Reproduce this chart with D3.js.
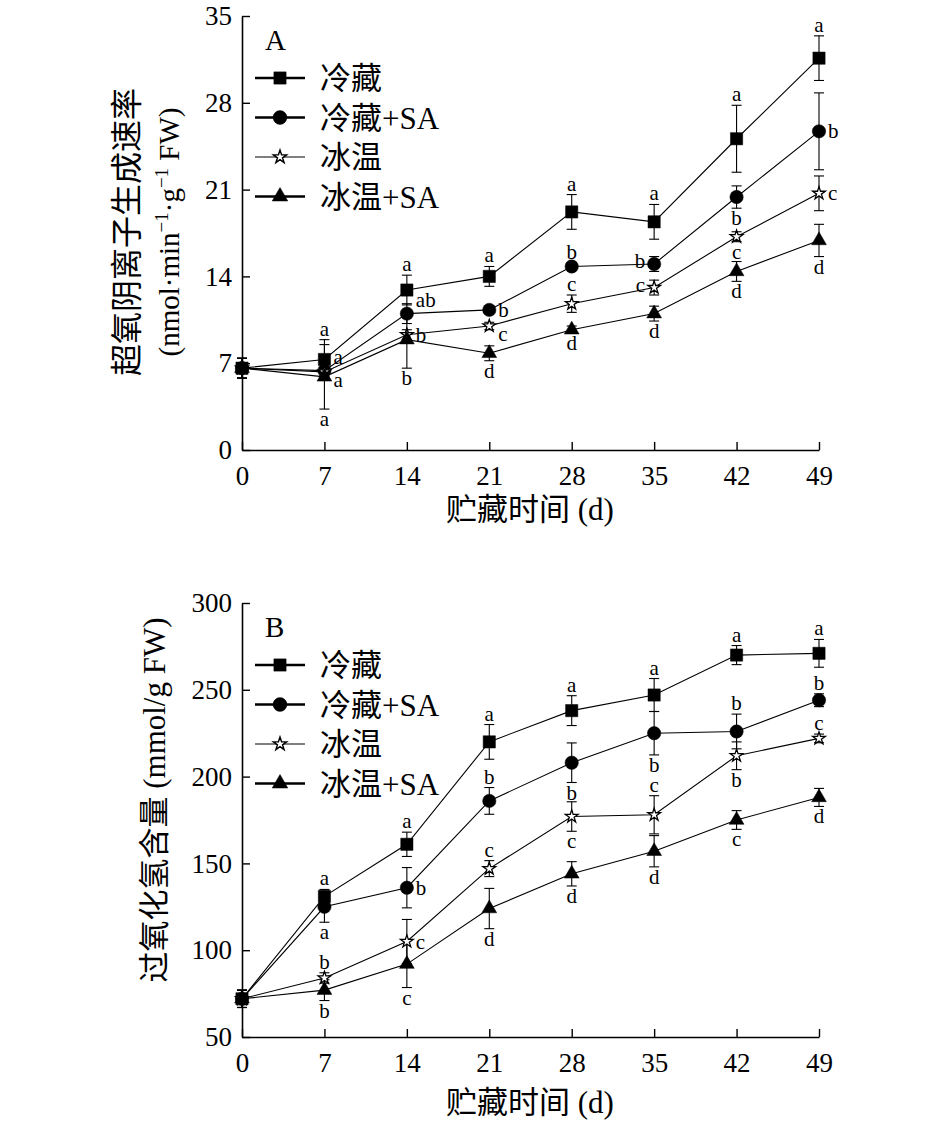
<!DOCTYPE html>
<html><head><meta charset="utf-8">
<script src="https://cdn.jsdelivr.net/npm/d3@7"></script>
<style>body{margin:0;background:#fff}svg{display:block}</style>
</head><body>
<svg id="chart" width="945" height="1122"></svg>
<script>
// ---------- data ----------
const days = [0, 7, 14, 21, 28, 35, 42, 49];
const seriesNames = ["冷藏", "冷藏+SA", "冰温", "冰温+SA"];

// Panel A: superoxide anion production rate
const A_cold      = [6.6, 7.3, 12.9, 14.0, 19.2, 18.4, 25.1, 31.6];
const A_coldSA    = [6.6, 6.4, 11.0, 11.3, 14.8, 15.0, 20.4, 25.7];
const A_ice       = [6.6, 6.3, 9.3, 10.0, 11.8, 13.1, 17.2, 20.7];
const A_iceSA     = [6.6, 5.9, 8.9, 7.8, 9.7, 11.0, 14.4, 16.9];
const A_coldErr   = [0.8, 1.6, 1.2, 0.8, 1.4, 1.4, 2.7, 1.8];
const A_coldSAErr = [0.8, 0.5, 0.8, 0.3, 0.3, 0.6, 0.9, 3.1];
const A_iceErr    = [0.8, 0.3, 0.4, 0.3, 0.7, 0.6, 0.4, 1.4];
const A_iceSAErr  = [0.8, 2.6, 2.3, 0.6, 0.3, 0.6, 0.8, 1.3];
const A_coldLet   = ["", "a", "a", "a", "a", "a", "a", "a"];
const A_coldSALet = ["", "a", "ab", "b", "b", "b", "b", "b"];
const A_iceLet    = ["", "a", "b", "c", "c", "c", "c", "c"];
const A_iceSALet  = ["", "a", "b", "d", "d", "d", "d", "d"];
const A_yTicks = [0, 7, 14, 21, 28, 35];

// Panel B: hydrogen peroxide content
const B_cold      = [72, 131, 161, 220, 238, 247, 270, 271];
const B_coldSA    = [72, 125, 136, 186, 208, 225, 226, 244];
const B_ice       = [72, 84, 105, 147, 177, 178, 212, 222];
const B_iceSA     = [72, 77, 92, 124, 144, 157, 175, 188];
const B_coldErr   = [5, 4, 7, 10, 8.6, 9.5, 5.5, 8];
const B_coldSAErr = [5, 8.9, 11.6, 7.7, 11.4, 12.5, 10, 3.7];
const B_iceErr    = [5, 3, 12.7, 4.6, 8.5, 11, 8, 2.5];
const B_iceSAErr  = [5, 6, 13.5, 11.6, 7, 9, 5.4, 5.2];
const B_coldLet   = ["", "a", "a", "a", "a", "a", "a", "a"];
const B_coldSALet = ["", "a", "b", "b", "b", "b", "b", "b"];
const B_iceLet    = ["", "b", "c", "c", "c", "c", "b", "c"];
const B_iceSALet  = ["", "b", "c", "d", "d", "d", "c", "d"];
const B_yTicks = [50, 100, 150, 200, 250, 300];

// ---------- label placement (style) ----------
const A_place = [
  ["n","t","t","t","t","t","t","t"],
  ["n","ru","ru","r","t","l","b","r"],
  ["n","rd","r","rd","t","l","b","r"],
  ["n","b","b","b","b","b","b","b"]
];
const B_place = [
  ["n","t","t","t","t","t","t","t"],
  ["n","b","r","t","b","b","t","t"],
  ["n","t","r","t","b","t","b","t"],
  ["n","b","b","b","b","b","b","b"]
];

const svg = d3.select("#chart");
const serif = "'Liberation Serif','Times New Roman','Noto Sans CJK SC',serif";

const symbols = [
  {type: d3.symbolSquare, size: 150, legSize: 150, fill: "#000", lw: 2.6},
  {type: d3.symbolCircle, size: 140, legSize: 150, fill: "#000", lw: 2.6},
  {type: d3.symbolStar, size: 50, legSize: 55, fill: "#fff", lw: 1.1},
  {type: d3.symbolTriangle, size: 95, legSize: 105, fill: "#000", lw: 2.6}
];

function panel(cfg) {
  const x = d3.scaleLinear().domain([0, 49]).range([242, 819]);
  const y = d3.scaleLinear().domain(cfg.yDomain).range([cfg.bottom, cfg.top]);
  const g = svg.append("g");

  // axes
  const xAxis = d3.axisBottom(x).tickValues(days).tickSizeInner(-8).tickSizeOuter(0).tickPadding(12);
  const gx = g.append("g").attr("transform", `translate(0,${cfg.bottom})`).call(xAxis);
  const yAxis = d3.axisLeft(y).tickValues(cfg.yTicks).tickSizeInner(-8).tickSizeOuter(0).tickPadding(14);
  const gy = g.append("g").attr("transform", `translate(242,0)`).call(yAxis);
  [gx, gy].forEach(a => {
    a.select(".domain").attr("stroke", "#000").attr("stroke-width", 1.6);
    a.selectAll(".tick line").attr("stroke", "#000").attr("stroke-width", 1.4);
    a.selectAll(".tick text").attr("font-family", serif).attr("font-size", 27).attr("fill", "#000");
  });
  gx.selectAll(".tick text").attr("dy", "0.85em");
  gy.selectAll(".tick text").attr("dx", "0.15em");

  const series = cfg.series;
  // lines
  series.forEach((s) => {
    g.append("path").datum(s.v)
      .attr("fill", "none").attr("stroke", "#000").attr("stroke-width", 1.1)
      .attr("d", d3.line().x((d, i) => x(days[i])).y(d => y(d)));
  });
  // error bars
  series.forEach((s) => {
    const eg = g.append("g").attr("stroke", "#000").attr("stroke-width", 1.1);
    s.v.forEach((d, i) => {
      const cx = x(days[i]), y1 = y(d + s.e[i]), y2 = y(d - s.e[i]);
      eg.append("line").attr("x1", cx).attr("x2", cx).attr("y1", y1).attr("y2", y2);
      eg.append("line").attr("x1", cx - 5).attr("x2", cx + 5).attr("y1", y1).attr("y2", y1);
      eg.append("line").attr("x1", cx - 5).attr("x2", cx + 5).attr("y1", y2).attr("y2", y2);
    });
  });
  // markers
  series.forEach((s, k) => {
    const sym = symbols[k];
    g.append("g").selectAll("path").data(s.v).join("path")
      .attr("transform", (d, i) => `translate(${x(days[i])},${y(d)})`)
      .attr("d", d3.symbol().type(sym.type).size(sym.size))
      .attr("fill", sym.fill).attr("stroke", "#000").attr("stroke-width", k === 2 ? 1.3 : 0.5);
  });
  // significance letters
  series.forEach((s, k) => {
    s.l.forEach((t, i) => {
      const p = cfg.place[k][i];
      if (!t || p === "n") return;
      const cx = x(days[i]);
      let tx = cx, ty = y(s.v[i]), anchor = "middle";
      if (p === "t") ty = y(s.v[i] + s.e[i]) - 4;
      else if (p === "b") ty = y(s.v[i] - s.e[i]) + 17;
      else if (p === "r") { tx = cx + 9; ty += 7; anchor = "start"; }
      else if (p === "ru") { tx = cx + 9; ty -= 7; anchor = "start"; }
      else if (p === "rd") { tx = cx + 9; ty += 15; anchor = "start"; }
      else if (p === "l") { tx = cx - 9; ty += 4; anchor = "end"; }
      g.append("text").attr("x", tx).attr("y", ty).attr("text-anchor", anchor)
        .attr("font-family", serif).attr("font-size", 21).attr("fill", "#000").text(t);
    });
  });

  // panel letter
  g.append("text").attr("x", 265).attr("y", cfg.top + 34).attr("font-family", serif)
    .attr("font-size", 29).text(cfg.letter);
  // legend
  seriesNames.forEach((name, k) => {
    const ly = cfg.top + 62 + k * 39.5;
    const sym = symbols[k];
    g.append("line").attr("x1", 255).attr("x2", 305).attr("y1", ly).attr("y2", ly)
      .attr("stroke", "#000").attr("stroke-width", sym.lw);
    g.append("path").attr("transform", `translate(280,${ly})`)
      .attr("d", d3.symbol().type(sym.type).size(sym.legSize))
      .attr("fill", sym.fill).attr("stroke", "#000").attr("stroke-width", k === 2 ? 1.4 : 0.5);
    g.append("text").attr("x", 320).attr("y", ly + 11).attr("font-family", serif)
      .attr("font-size", 31).text(name);
  });
  // x title
  g.append("text").attr("x", 530).attr("y", cfg.bottom + cfg.xTitleOff).attr("text-anchor", "middle")
    .attr("font-family", serif).attr("font-size", 31).text("贮藏时间 (d)");
  return {g, x, y};
}

// Panel A
panel({
  yDomain: [0, 35], top: 16, bottom: 450, yTicks: A_yTicks, letter: "A", place: A_place, xTitleOff: 70,
  series: [
    {v: A_cold, e: A_coldErr, l: A_coldLet},
    {v: A_coldSA, e: A_coldSAErr, l: A_coldSALet},
    {v: A_ice, e: A_iceErr, l: A_iceLet},
    {v: A_iceSA, e: A_iceSAErr, l: A_iceSALet}
  ]
});
// y title A (two lines)
svg.append("text").attr("transform", "translate(138,232) rotate(-90)")
  .attr("text-anchor", "middle").attr("font-family", serif).attr("font-size", 32).text("超氧阴离子生成速率");
const tb = svg.append("text").attr("transform", "translate(179,232) rotate(-90)")
  .attr("text-anchor", "middle").attr("font-family", serif).attr("font-size", 29);
tb.append("tspan").text("(nmol·min");
tb.append("tspan").attr("dy", -11).attr("font-size", 19).text("−1");
tb.append("tspan").attr("dy", 11).text("·g");
tb.append("tspan").attr("dy", -11).attr("font-size", 19).text("−1");
tb.append("tspan").attr("dy", 11).text(" FW)");

// Panel B
panel({
  yDomain: [50, 300], top: 603, bottom: 1037, yTicks: B_yTicks, letter: "B", place: B_place, xTitleOff: 76,
  series: [
    {v: B_cold, e: B_coldErr, l: B_coldLet},
    {v: B_coldSA, e: B_coldSAErr, l: B_coldSALet},
    {v: B_ice, e: B_iceErr, l: B_iceLet},
    {v: B_iceSA, e: B_iceSAErr, l: B_iceSALet}
  ]
});
svg.append("text").attr("transform", "translate(165,800) rotate(-90)")
  .attr("text-anchor", "middle").attr("font-family", serif).attr("font-size", 31)
  .text("过氧化氢含量 (mmol/g FW)");
</script>
</body></html>
